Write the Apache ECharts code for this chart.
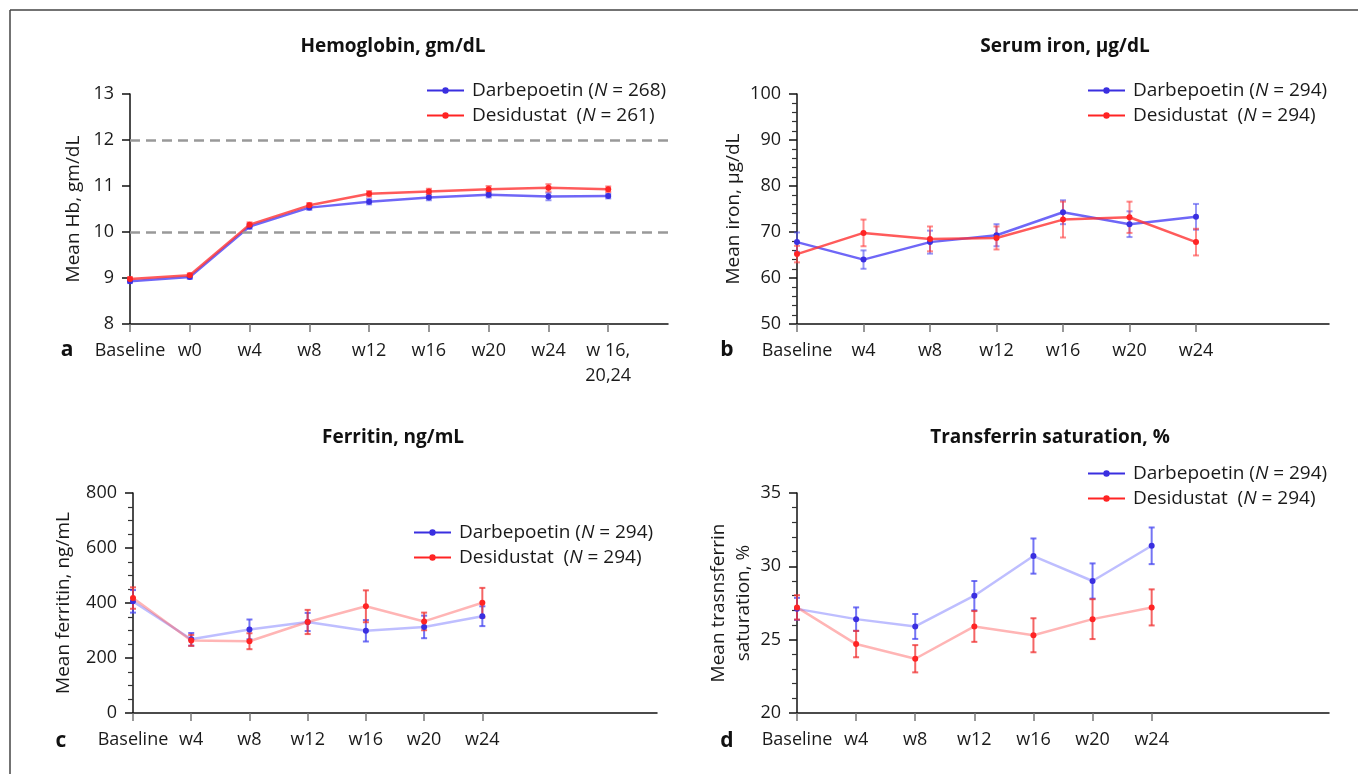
<!DOCTYPE html>
<html>
<head>
<meta charset="utf-8">
<script src="https://cdn.jsdelivr.net/npm/echarts@6/dist/echarts.min.js"></script>
<style>
html,body{margin:0;padding:0;background:#fff;}
#c{width:1358px;height:774px;}
</style>
</head>
<body>
<div id="c"></div>
<script>
// ---------- data ----------
const hbCats = ['Baseline', 'w0', 'w4', 'w8', 'w12', 'w16', 'w20', 'w24', 'w 16,\n20,24'];
const hbDarb = [8.93, 9.02, 10.12, 10.53, 10.66, 10.75, 10.81, 10.77, 10.78];
const hbDarbErr = [0.04, 0.04, 0.05, 0.05, 0.06, 0.06, 0.06, 0.08, 0.05];
const hbDesi = [8.98, 9.06, 10.16, 10.58, 10.83, 10.88, 10.93, 10.96, 10.93];
const hbDesiErr = [0.04, 0.04, 0.05, 0.05, 0.06, 0.06, 0.07, 0.08, 0.06];

const labCats = ['Baseline', 'w4', 'w8', 'w12', 'w16', 'w20', 'w24'];

const ironDarb = [67.8, 64.0, 67.8, 69.3, 74.3, 71.7, 73.3];
const ironDarbErr = [2.1, 2.0, 2.5, 2.4, 2.6, 2.8, 2.8];
const ironDesi = [65.2, 69.8, 68.5, 68.7, 72.7, 73.2, 67.8];
const ironDesiErr = [1.8, 2.9, 2.7, 2.5, 3.9, 3.4, 2.9];

const ferDarb = [406, 268, 304, 331, 299, 313, 352];
const ferDarbErr = [41, 23, 36, 33, 39, 41, 36];
const ferDesi = [418, 264, 261, 331, 388, 333, 401];
const ferDesiErr = [39, 20, 29, 44, 58, 32, 54];

const tsDarb = [27.1, 26.4, 25.9, 28.0, 30.7, 29.0, 31.4];
const tsDarbErr = [0.75, 0.8, 0.85, 1.0, 1.2, 1.2, 1.25];
const tsDesi = [27.2, 24.7, 23.7, 25.9, 25.3, 26.4, 27.2];
const tsDesiErr = [0.83, 0.9, 0.93, 1.05, 1.16, 1.36, 1.23];

const titles = ['Hemoglobin, gm/dL', 'Serum iron, \u00b5g/dL', 'Ferritin, ng/mL', 'Transferrin saturation, %'];
const yNames = ['Mean Hb, gm/dL', 'Mean iron, \u00b5g/dL', 'Mean ferritin, ng/mL', 'Mean trasnsferrin\nsaturation, %'];
const nDarb = [268, 294, 294, 294];
const nDesi = [261, 294, 294, 294];

// ---------- styling ----------
const FONT = '"Open Sans", "Noto Sans", sans-serif';
const BLUE = '#3a2fe0';
const RED = '#ff2424';
const LEG_ICON = 'path://M0,4.1 L15.5,4.1 L15.5,5.9 L0,5.9 Z M21.5,4.1 L37,4.1 L37,5.9 L21.5,5.9 Z M15.3,5 A3.2,3.2 0 1,1 21.7,5 A3.2,3.2 0 1,1 15.3,5 Z M0,0 L0,0.01 L0.01,0 Z M37,10 L37,9.99 L36.99,10 Z';

const panels = [
  { grid: {left: 130, top: 94, width: 538, height: 230}, xmax: 9, cats: hbCats,
    y: {min: 8, max: 13, interval: 1, minor: 0}, nameGap: 44,
    d: hbDarb, de: hbDarbErr, r: hbDesi, re: hbDesiErr, light: false,
    legend: {left: 422, top: 76} },
  { grid: {left: 797, top: 94, width: 532, height: 230}, xmax: 8, cats: labCats,
    y: {min: 50, max: 100, interval: 10, minor: 5}, nameGap: 45,
    d: ironDarb, de: ironDarbErr, r: ironDesi, re: ironDesiErr, light: false,
    legend: {left: 1083, top: 76} },
  { grid: {left: 133, top: 493, width: 524, height: 220}, xmax: 9, cats: labCats,
    y: {min: 0, max: 800, interval: 200, minor: 4}, nameGap: 57,
    d: ferDarb, de: ferDarbErr, r: ferDesi, re: ferDesiErr, light: true,
    legend: {left: 409, top: 518} },
  { grid: {left: 797, top: 493, width: 532, height: 220}, xmax: 9, cats: labCats,
    y: {min: 20, max: 35, interval: 5, minor: 5}, nameGap: 38,
    d: tsDarb, de: tsDarbErr, r: tsDesi, re: tsDesiErr, light: true,
    legend: {left: 1083, top: 459} }
];

const grids = [], xAxes = [], yAxes = [], series = [], legends = [];

function errSeries(name, idx, vals, errs, color) {
  return {
    name: name, type: 'custom', xAxisIndex: idx, yAxisIndex: idx, z: 3, silent: true,
    data: vals.map((v, i) => [i, v - errs[i], v + errs[i]]),
    renderItem: function (params, api) {
      const lo = api.coord([api.value(0), api.value(1)]);
      const hi = api.coord([api.value(0), api.value(2)]);
      const w = 3;
      const st = {stroke: color, lineWidth: 2};
      return {type: 'group', children: [
        {type: 'line', shape: {x1: lo[0], y1: lo[1], x2: hi[0], y2: hi[1]}, style: st},
        {type: 'line', shape: {x1: lo[0] - w, y1: lo[1], x2: lo[0] + w, y2: lo[1]}, style: st},
        {type: 'line', shape: {x1: hi[0] - w, y1: hi[1], x2: hi[0] + w, y2: hi[1]}, style: st}
      ]};
    }
  };
}

panels.forEach((p, k) => {
  grids.push(Object.assign({containLabel: false}, p.grid));
  const ticks = p.cats.map((c, i) => i);
  xAxes.push({
    type: 'value', gridIndex: k, min: 0, max: p.xmax,
    splitLine: {show: false},
    axisLine: {show: true, onZero: false, lineStyle: {color: '#111', width: 1.5}},
    axisTick: {show: true, customValues: ticks, length: 8, lineStyle: {color: '#777', width: 1.5}},
    axisLabel: {show: true, customValues: ticks, margin: 14, color: '#1a1a1a', fontSize: 18, fontFamily: FONT,
      lineHeight: 25, formatter: v => p.cats[Math.round(v)] || ''}
  });
  yAxes.push({
    type: 'value', gridIndex: k, min: p.y.min, max: p.y.max, interval: p.y.interval,
    name: yNames[k], nameLocation: 'middle', nameRotate: 90, nameGap: p.nameGap,
    nameTextStyle: {color: '#1a1a1a', fontSize: 19, fontFamily: FONT, lineHeight: 25},
    splitLine: {show: false},
    axisLine: {show: true, lineStyle: {color: '#111', width: 1.5}},
    axisTick: {show: true, length: 8, lineStyle: {color: '#111', width: 1.5}},
    minorTick: {show: p.y.minor > 0, splitNumber: p.y.minor || 5, length: 5, lineStyle: {color: '#333', width: 1.2}},
    axisLabel: {margin: 16, color: '#1a1a1a', fontSize: 18, fontFamily: FONT}
  });

  const lb = p.light ? 'rgba(110,110,255,0.45)' : 'rgba(75,65,245,0.8)';
  const lr = p.light ? 'rgba(255,90,90,0.45)' : 'rgba(255,50,50,0.8)';
  const eb = p.light ? 'rgba(70,70,240,0.75)' : 'rgba(80,80,240,0.6)';
  const er = p.light ? 'rgba(240,50,50,0.75)' : 'rgba(255,60,60,0.6)';

  series.push(errSeries('Darbepoetin', k, p.d, p.de, eb));
  series.push(errSeries('Desidustat', k, p.r, p.re, er));
  const bl = {
    name: 'Darbepoetin', type: 'line', xAxisIndex: k, yAxisIndex: k, z: 4,
    data: p.d.map((v, i) => [i, v]), symbol: 'circle', symbolSize: 6,
    itemStyle: {color: BLUE}, lineStyle: {color: lb, width: 2.5}, silent: true
  };
  if (k === 0) {
    bl.markLine = {silent: true, symbol: 'none', label: {show: false},
      lineStyle: {color: '#999', type: [10, 6], width: 2.5},
      data: [{yAxis: 12}, {yAxis: 10}]};
  }
  series.push(bl);
  series.push({
    name: 'Desidustat', type: 'line', xAxisIndex: k, yAxisIndex: k, z: 5,
    data: p.r.map((v, i) => [i, v]), symbol: 'circle', symbolSize: 6,
    itemStyle: {color: RED}, lineStyle: {color: lr, width: 2.5}, silent: true
  });

  legends.push({
    left: p.legend.left, top: p.legend.top, orient: 'vertical', itemGap: 6,
    itemWidth: 37, itemHeight: 10, selectedMode: false, icon: LEG_ICON,
    data: [
      {name: 'Darbepoetin', itemStyle: {color: BLUE}},
      {name: 'Desidustat', itemStyle: {color: RED}}
    ],
    formatter: function (name) {
      if (name === 'Darbepoetin') return '{a|Darbepoetin (}{i|N}{a| = ' + nDarb[k] + ')}';
      return '{a|Desidustat  (}{i|N}{a| = ' + nDesi[k] + ')}';
    },
    textStyle: {
      padding: [0, 0, 0, 3],
      rich: {
        a: {fontSize: 19, fontFamily: FONT, color: '#1a1a1a', lineHeight: 20},
        i: {fontSize: 19, fontFamily: FONT, color: '#1a1a1a', fontStyle: 'italic', lineHeight: 20}
      }
    }
  });
});

const titlePos = [[393, 47], [1065, 47], [393, 438], [1050, 438]];
const letters = [['a', 67, 350], ['b', 727, 350], ['c', 61, 741], ['d', 727, 741]];
const graphic = [
  {type: 'line', shape: {x1: 10, y1: 10, x2: 1358, y2: 10}, style: {stroke: '#444', lineWidth: 1.5}},
  {type: 'line', shape: {x1: 10, y1: 10, x2: 10, y2: 774}, style: {stroke: '#444', lineWidth: 1.5}}
];
titles.forEach((t, i) => graphic.push({
  type: 'text', x: titlePos[i][0], y: titlePos[i][1],
  style: {text: t, font: 'bold 19px ' + FONT, fill: '#111', textAlign: 'center', textVerticalAlign: 'middle', align: 'center', verticalAlign: 'middle'}
}));
letters.forEach(l => graphic.push({
  type: 'text', x: l[1], y: l[2],
  style: {text: l[0], font: 'bold 21px ' + FONT, fill: '#111', textAlign: 'center', textVerticalAlign: 'middle', align: 'center', verticalAlign: 'middle'}
}));

const chart = echarts.init(document.getElementById('c'), null, {renderer: 'canvas'});
chart.setOption({
  animation: false,
  backgroundColor: '#fff',
  grid: grids, xAxis: xAxes, yAxis: yAxes, series: series, legend: legends,
  graphic: graphic
});
</script>
</body>
</html>
